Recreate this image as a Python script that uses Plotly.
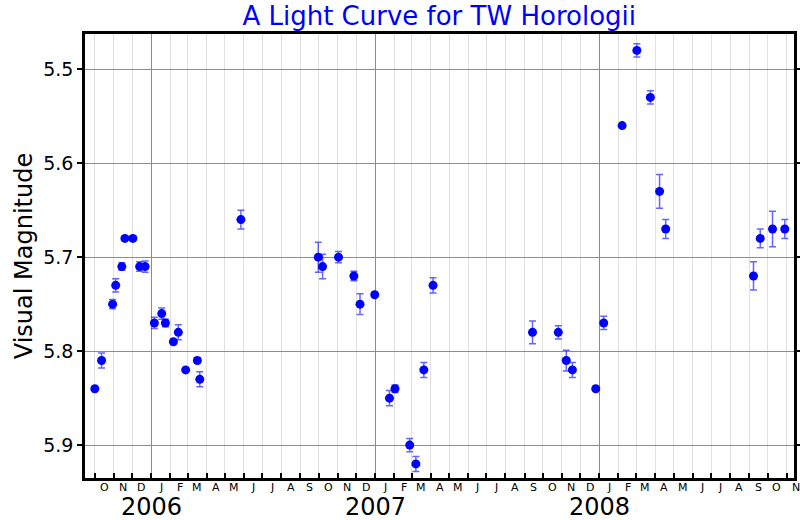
import plotly.graph_objects as go
import pandas as pd

# ---- data ----
obs_dates = [
    "2005-10-01", "2005-10-12", "2005-10-30", "2005-11-04", "2005-11-14", "2005-11-19",
    "2005-12-02", "2005-12-13", "2005-12-22", "2006-01-06", "2006-01-18", "2006-01-24",
    "2006-02-06", "2006-02-14", "2006-02-26", "2006-03-17", "2006-03-21", "2006-05-27",
    "2006-09-30", "2006-10-07", "2006-11-02", "2006-11-27", "2006-12-07", "2006-12-31",
    "2007-01-24", "2007-02-02", "2007-02-26", "2007-03-08", "2007-03-21", "2007-04-05",
    "2007-09-14", "2007-10-26", "2007-11-08", "2007-11-18", "2007-12-26", "2008-01-08",
    "2008-02-07", "2008-03-02", "2008-03-24", "2008-04-08", "2008-04-18",
    "2008-09-08", "2008-09-19", "2008-10-09", "2008-10-29",
]
magnitudes = [
    5.84, 5.81, 5.75, 5.73, 5.71, 5.68,
    5.68, 5.71, 5.71, 5.77, 5.76, 5.77,
    5.79, 5.78, 5.82, 5.81, 5.83, 5.66,
    5.70, 5.71, 5.70, 5.72, 5.75, 5.74,
    5.85, 5.84, 5.90, 5.92, 5.82, 5.73,
    5.78, 5.78, 5.81, 5.82, 5.84, 5.77,
    5.56, 5.48, 5.53, 5.63, 5.67,
    5.72, 5.68, 5.67, 5.67,
]
mag_errors = [
    0.0, 0.008, 0.005, 0.007, 0.004, 0.0,
    0.0, 0.005, 0.006, 0.006, 0.006, 0.004,
    0.0, 0.008, 0.0, 0.003, 0.008, 0.01,
    0.016, 0.013, 0.006, 0.005, 0.011, 0.0,
    0.008, 0.004, 0.007, 0.008, 0.008, 0.008,
    0.012, 0.007, 0.011, 0.008, 0.0, 0.007,
    0.0, 0.007, 0.007, 0.018, 0.01,
    0.015, 0.01, 0.019, 0.01,
]
y_ticks = [5.5, 5.6, 5.7, 5.8, 5.9]
year_labels = ["2006", "2007", "2008"]
month_letters = ["J", "F", "M", "A", "M", "J", "J", "A", "S", "O", "N", "D"]
x_range = ["2005-09-15", "2008-11-13"]
y_range = [5.935, 5.4625]

TITLE = "A Light Curve for TW Horologii"
Y_TITLE = "Visual Magnitude"
FONT = "DejaVu Sans"

fig = go.Figure()
fig.add_trace(go.Scatter(
    x=obs_dates, y=magnitudes, mode="markers",
    marker=dict(color="blue", size=9),
    error_y=dict(type="data", array=mag_errors, color="rgba(0,0,255,0.6)",
                 thickness=1.5, width=3.5),
    showlegend=False,
))

# month and year labels, placed as fractions of the x range
x0, x1 = pd.Timestamp(x_range[0]), pd.Timestamp(x_range[1])
span = (x1 - x0).total_seconds()


def frac(ts):
    return (ts - x0).total_seconds() / span


months = pd.date_range("2005-10-01", "2008-11-01", freq="MS")
annotations = []
for m in months:
    mid = m + pd.Timedelta(days=15)
    annotations.append(dict(x=frac(mid), y=0, xref="paper", yref="paper",
                            text=month_letters[m.month - 1], showarrow=False,
                            xanchor="center", yanchor="middle", yshift=-9,
                            font=dict(family=FONT, size=11, color="black")))
for yl in year_labels:
    annotations.append(dict(x=frac(pd.Timestamp(f"{yl}-01-01")), y=0, xref="paper", yref="paper",
                            text=yl, showarrow=False, xanchor="center", yanchor="middle",
                            yshift=-29,
                            font=dict(family=FONT, size=24, color="black")))

fig.update_layout(
    width=800, height=520,
    margin=dict(l=85, r=6, t=34, b=42, autoexpand=False),
    paper_bgcolor="white", plot_bgcolor="white",
    font=dict(family=FONT, color="black"),
    title=dict(text=TITLE, x=0.549, xanchor="center", y=1 - 16 / 520, yanchor="middle",
               font=dict(family=FONT, size=26, color="blue")),
    xaxis=dict(
        type="date", range=x_range, automargin=False,
        tick0="2006-01-01", dtick="M12",
        ticks="inside", ticklen=5, tickwidth=1.5, tickcolor="black",
        showticklabels=False,
        showgrid=True, gridcolor="#8c8c8c", gridwidth=1,
        minor=dict(tick0="2005-10-01", dtick="M1", ticks="inside", ticklen=5,
                   tickwidth=1.5, tickcolor="black",
                   showgrid=True, gridcolor="#e0e0e0", gridwidth=1),
        showline=True, linecolor="black", linewidth=2.5, mirror=True,
        zeroline=False,
    ),
    xaxis2=dict(
        type="date", range=x_range, overlaying="x", anchor="y", side="bottom",
        automargin=False,
        tick0="2005-10-01", dtick="M1",
        ticks="outside", ticklen=5, tickwidth=1.5, tickcolor="black",
        showticklabels=False, showgrid=False, showline=False, zeroline=False,
    ),
    yaxis=dict(
        range=y_range, tickvals=y_ticks, ticktext=[f"{v:.1f}" for v in y_ticks],
        automargin=False,
        ticks="outside", ticklen=5, tickwidth=1.5, tickcolor="black",
        tickfont=dict(family=FONT, size=19, color="black"),
        showgrid=True, gridcolor="#8c8c8c", gridwidth=1,
        showline=True, linecolor="black", linewidth=2.5, mirror="ticks",
        zeroline=False,
        title=dict(text=Y_TITLE, font=dict(family=FONT, size=24, color="black"), standoff=4),
    ),
    yaxis2=dict(
        range=y_range, tickvals=y_ticks, overlaying="y", anchor="x", side="left",
        automargin=False,
        ticks="inside", ticklen=5, tickwidth=1.5, tickcolor="black",
        showticklabels=False, showgrid=False, showline=False, zeroline=False,
        mirror="ticks",
    ),
    annotations=annotations,
)

fig.write_html("out.html")
